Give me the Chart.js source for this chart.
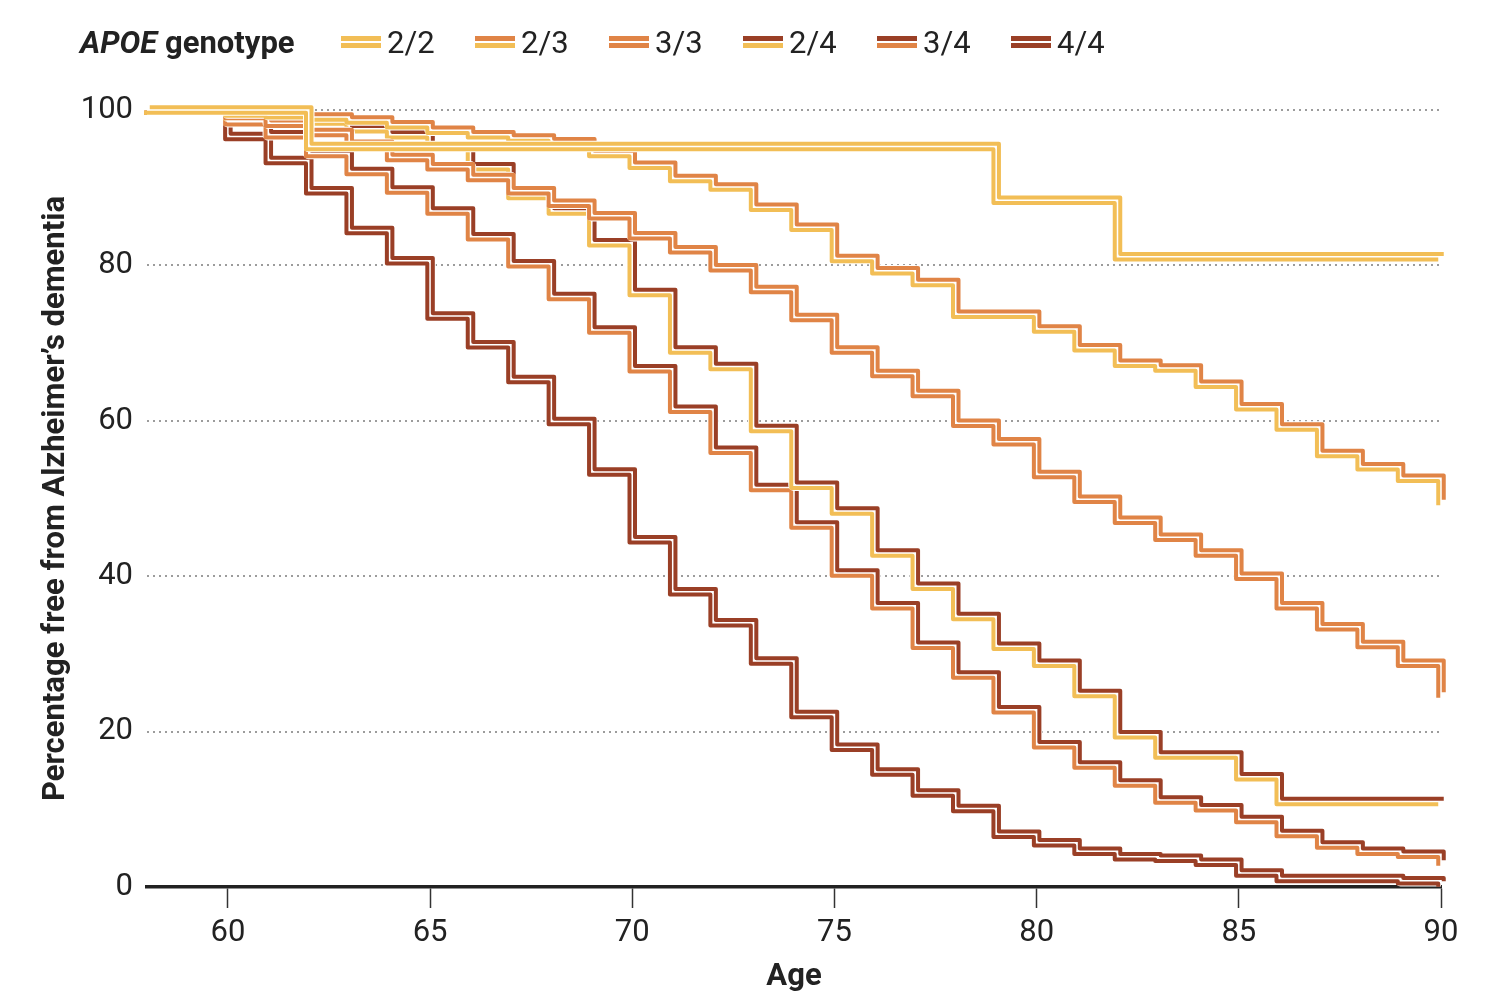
<!DOCTYPE html>
<html><head><meta charset="utf-8">
<script src="https://cdn.jsdelivr.net/npm/chart.js@4.4.1/dist/chart.umd.min.js"></script>
<style>
html,body{margin:0;padding:0;background:#fff;}
#wrap{position:relative;width:1512px;height:1008px;overflow:hidden;}
canvas{position:absolute;left:0;top:0;}
#legend{position:absolute;left:80px;top:22px;height:40px;display:flex;align-items:center;font-family:Roboto,sans-serif;font-size:31px;color:#222;white-space:nowrap;}
.ttl{font-weight:700;width:261px;}
.item{display:flex;align-items:center;width:134px;}
.sw{width:40px;height:12px;display:flex;flex-direction:column;justify-content:space-between;margin-right:6px;}
.sw span{display:block;height:5px;}
</style></head>
<body><div id="wrap"><canvas id="c" width="1512" height="1008"></canvas><div id="legend"></div></div>
<script>
// ---- data (value = percentage free after each age) ----
const ages   = [58, 60, 61, 62, 63, 64, 65, 66, 67, 68, 69, 70, 71, 72, 73, 74, 75, 76, 77, 78, 79, 80, 81, 82, 83, 84, 85, 86, 87, 88, 89, 90];
const apoe22 = [100, 100, 100, 95.3, 95.3, 95.3, 95.3, 95.3, 95.3, 95.3, 95.3, 95.3, 95.3, 95.3, 95.3, 95.3, 95.3, 95.3, 95.3, 95.3, 88.4, 88.4, 88.4, 81.1, 81.1, 81.1, 81.1, 81.1, 81.1, 81.1, 81.1, 81.1];
const apoe23 = [100, 99.6, 99.4, 99.1, 98.7, 98.1, 97.4, 96.8, 96.4, 95.9, 94.4, 92.9, 91.2, 90.1, 87.5, 84.9, 80.9, 79.3, 77.8, 73.7, 73.7, 71.8, 69.4, 67.4, 66.8, 64.7, 61.8, 59.2, 55.8, 54.1, 52.6, 49.5];
const apoe33 = [100, 99.3, 98.3, 97.1, 95.6, 93.9, 92.7, 91.3, 89.6, 88.0, 86.4, 83.8, 82.0, 79.7, 76.9, 73.3, 69.1, 66.1, 63.5, 59.7, 57.3, 53.1, 49.9, 47.2, 45.0, 43.0, 40.0, 36.2, 33.5, 31.2, 28.8, 24.7];
const apoe24 = [100, 99.2, 98.6, 98.6, 97.6, 96.8, 95.2, 92.7, 89.0, 87.0, 82.9, 76.5, 69.1, 67.0, 59.0, 51.7, 48.4, 43.0, 38.7, 34.8, 31.0, 28.8, 24.9, 19.6, 17.0, 17.0, 14.2, 11.0, 11.0, 11.0, 11.0, 11.0];
const apoe34 = [100, 98.5, 96.8, 94.4, 92.1, 89.7, 87.0, 83.7, 80.2, 76.0, 71.7, 66.7, 61.5, 56.2, 51.4, 46.6, 40.4, 36.2, 31.1, 27.3, 22.8, 18.3, 15.7, 13.4, 11.2, 10.2, 8.7, 6.9, 5.4, 4.6, 4.2, 3.1];
const apoe44 = [100, 96.6, 93.5, 89.6, 84.5, 80.6, 73.5, 69.8, 65.3, 59.9, 53.4, 44.7, 38.0, 34.0, 29.1, 22.2, 18.0, 14.8, 12.1, 10.1, 6.8, 5.7, 4.6, 3.9, 3.7, 3.2, 1.8, 1.1, 1.1, 1.1, 0.8, 0.4];
const genotypes = ['2/2', '2/3', '3/3', '2/4', '3/4', '4/4'];
const seriesValues = [apoe22, apoe23, apoe33, apoe24, apoe34, apoe44];
const xTicks = [60, 65, 70, 75, 80, 85, 90];
const yTicks = [0, 20, 40, 60, 80, 100];
const legendTitleItalic = 'APOE';
const legendTitleRest = ' genotype';
const xTitle = 'Age';
const yTitle = 'Percentage free from Alzheimer\u2019s dementia';

// ---- styles ----
const alleleColor = {'2': '#F2BE56', '3': '#E08446', '4': '#9A3F26'};
const BAND = 4, D = 2.75, HALO = 11.5;
const ink = '#222';

Chart.defaults.font.family = 'Roboto';
Chart.defaults.color = ink;

const datasets = [];
genotypes.forEach((g, i) => {
  const pts = ages.map((a, k) => ({x: a, y: seriesValues[i][k]}));
  const topC = alleleColor[g[2]], botC = alleleColor[g[0]];
  const common = {data: pts, stepped: 'before', pointRadius: 0, pointHoverRadius: 0, clip: false,
                  borderJoinStyle: 'round', borderCapStyle: 'butt', fill: false};
  datasets.push(Object.assign({}, common, {label: g, borderColor: topC, borderWidth: BAND, shift: [D, -D], order: i * 3}));
  datasets.push(Object.assign({}, common, {label: g + ' b', borderColor: botC, borderWidth: BAND, shift: [-D, D], order: i * 3 + 1}));
  datasets.push(Object.assign({}, common, {label: g + ' halo', borderColor: '#ffffff', borderWidth: HALO, order: i * 3 + 2}));
});

const shiftPlugin = {
  id: 'shift',
  beforeDatasetDraw(chart, args) {
    const ds = chart.data.datasets[args.index];
    chart.ctx.save();
    if (ds.shift) chart.ctx.translate(ds.shift[0], ds.shift[1]);
  },
  afterDatasetDraw(chart) { chart.ctx.restore(); }
};

new Chart(document.getElementById('c'), {
  type: 'line',
  data: {datasets},
  plugins: [shiftPlugin],
  options: {
    responsive: false, animation: false, events: [],
    layout: {padding: {top: 110, right: 71, left: 0, bottom: 0}},
    plugins: {legend: {display: false}, tooltip: {enabled: false}},
    scales: {
      x: {
        type: 'linear', min: 58, max: 90,
        afterBuildTicks: s => { s.ticks = xTicks.map(v => ({value: v})); },
        afterFit: s => { s.height = 121; },
        ticks: {autoSkip: false, maxRotation: 0, padding: 7, font: {size: 31}, color: ink},
        grid: {drawOnChartArea: false, drawTicks: true, tickLength: 21, tickWidth: 1.5, tickColor: '#333'},
        border: {display: true, color: ink, width: 3.5},
        title: {display: true, text: xTitle, font: {size: 31, weight: 'bold'}, color: ink, padding: {top: 0, bottom: 12}}
      },
      y: {
        type: 'linear', min: 0, max: 100,
        afterBuildTicks: s => { s.ticks = yTicks.map(v => ({value: v})); },
        afterFit: s => { s.width = 147; },
        ticks: {padding: 14, font: {size: 31}, color: ink},
        grid: {drawTicks: false, lineWidth: 2, color: c => (c.tick && c.tick.value === 0) ? 'rgba(0,0,0,0)' : '#9c9c9c'},
        border: {display: false, dash: [2, 4]},
        title: {display: true, text: yTitle, font: {size: 31, weight: 'bold'}, color: ink, padding: {top: 38, bottom: 0}}
      }
    }
  }
});

// ---- legend ----
const leg = document.getElementById('legend');
const t = document.createElement('div'); t.className = 'ttl';
const it = document.createElement('i'); it.textContent = legendTitleItalic;
t.appendChild(it); t.appendChild(document.createTextNode(legendTitleRest));
leg.appendChild(t);
genotypes.forEach(g => {
  const item = document.createElement('div'); item.className = 'item';
  const sw = document.createElement('div'); sw.className = 'sw';
  const a = document.createElement('span'); a.style.background = alleleColor[g[2]];
  const b = document.createElement('span'); b.style.background = alleleColor[g[0]];
  sw.appendChild(a); sw.appendChild(b);
  const lab = document.createElement('span'); lab.textContent = g;
  item.appendChild(sw); item.appendChild(lab);
  leg.appendChild(item);
});
</script>
</body></html>
